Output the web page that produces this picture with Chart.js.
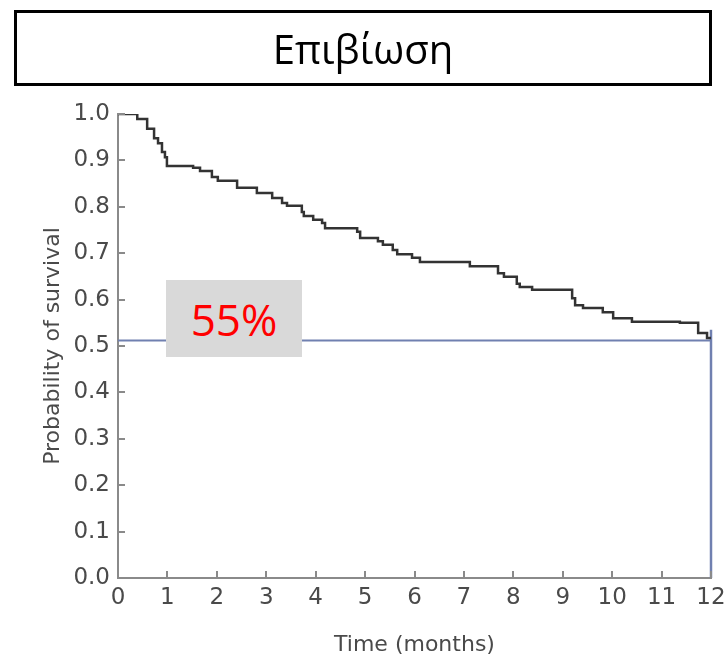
<!DOCTYPE html>
<html>
<head>
<meta charset="utf-8">
<script src="https://cdn.jsdelivr.net/npm/chart.js@4/dist/chart.umd.min.js"></script>
<style>
  html, body { margin: 0; padding: 0; background: #fff; }
  #wrap { position: relative; width: 725px; height: 662px; }
  #title {
    position: absolute; left: 14px; top: 10px; width: 692px; height: 70px;
    border: 3px solid #000; display: flex; align-items: center; justify-content: center;
    font-family: "Open Sans", "Noto Sans", sans-serif; font-size: 40px; color: #000;
  }
  #note {
    position: absolute; left: 166px; top: 280px; width: 136px; height: 77px;
    background: #d9d9d9; display: flex; align-items: center; justify-content: center;
    font-family: "Open Sans", "Noto Sans", sans-serif; font-size: 44px; color: #ff0000;
  }
</style>
</head>
<body>
<div id="wrap">
  <canvas id="km" width="725" height="662"></canvas>
  <div id="title">Επιβίωση</div>
  <div id="note">55%</div>
</div>
<script>
// Kaplan-Meier steps: time of each drop (months) and survival after it
const stepTimes = [0, 0.39, 0.59, 0.73, 0.81, 0.89, 0.95, 0.99, 1.52, 1.66, 1.90, 2.02, 2.41, 2.81,
  3.12, 3.32, 3.42, 3.72, 3.76, 3.95, 4.13, 4.19, 4.84, 4.90, 5.26, 5.36, 5.56, 5.65, 5.95, 6.11,
  7.12, 7.69, 7.81, 8.07, 8.13, 8.38, 9.19, 9.25, 9.41, 9.81, 10.02, 10.40, 11.37, 11.74, 11.92, 12];
const survival = [1.0, 0.989, 0.968, 0.948, 0.937, 0.918, 0.907, 0.888, 0.884, 0.877, 0.864, 0.856, 0.841, 0.830,
  0.819, 0.808, 0.802, 0.789, 0.780, 0.772, 0.765, 0.754, 0.746, 0.733, 0.726, 0.718, 0.707, 0.698, 0.690, 0.681,
  0.672, 0.657, 0.649, 0.634, 0.627, 0.621, 0.603, 0.588, 0.582, 0.573, 0.560, 0.552, 0.550, 0.528, 0.517, 0.517];

const xTicks = [0, 1, 2, 3, 4, 5, 6, 7, 8, 9, 10, 11, 12];
const yTicks = [0, 0.1, 0.2, 0.3, 0.4, 0.5, 0.6, 0.7, 0.8, 0.9, 1.0];

// reference level read at 12 months
const markTime = 12;
const markLevel = 0.512;
const markTop = 0.535;

const axisGray = '#8a8a8a';
const textGray = '#4a4a4a';
const refBlue = '#7080b0';

// small tick marks pointing into the plot
const innerTicks = {
  id: 'innerTicks',
  afterDraw(chart) {
    const { ctx, scales: { x, y } } = chart;
    ctx.save();
    ctx.strokeStyle = axisGray;
    ctx.lineWidth = 2;
    ctx.beginPath();
    xTicks.forEach(v => {
      if (v === 0) return;
      const px = Math.round(x.getPixelForValue(v));
      ctx.moveTo(px, y.bottom);
      ctx.lineTo(px, y.bottom - 7);
    });
    yTicks.forEach(v => {
      if (v === 0) return;
      const py = Math.round(y.getPixelForValue(v));
      ctx.moveTo(x.left, py);
      ctx.lineTo(x.left + 7, py);
    });
    ctx.stroke();
    ctx.restore();
  }
};

const curve = stepTimes.map((t, i) => ({ x: t, y: survival[i] }));

new Chart(document.getElementById('km'), {
  type: 'line',
  data: {
    datasets: [
      {
        data: curve,
        stepped: 'before',
        borderColor: '#333333',
        borderWidth: 2.5,
        pointRadius: 0,
        fill: false,
        order: 0
      },
      {
        data: [{ x: 0, y: markLevel }, { x: markTime, y: markLevel }],
        borderColor: refBlue,
        borderWidth: 2,
        pointRadius: 0,
        clip: false,
        order: 1
      },
      {
        data: [{ x: markTime, y: 0 }, { x: markTime, y: markTop }],
        borderColor: refBlue,
        borderWidth: 2.5,
        pointRadius: 0,
        clip: false,
        order: 1
      }
    ]
  },
  options: {
    responsive: false,
    animation: false,
    layout: { padding: { top: 114, right: 14, left: 0, bottom: 0 } },
    plugins: {
      legend: { display: false },
      tooltip: { enabled: false }
    },
    scales: {
      x: {
        type: 'linear',
        min: 0,
        max: 12,
        // fixed height, and no extra room for the end labels
        afterFit: s => { s.height = 84; s.paddingLeft = 0; s.paddingRight = 0; },
        afterBuildTicks: s => { s.ticks = xTicks.map(v => ({ value: v })); },
        grid: { display: true, drawOnChartArea: false, drawTicks: false },
        border: { color: axisGray, width: 2 },
        ticks: {
          color: textGray,
          padding: 6,
          maxRotation: 0,
          font: { family: 'DejaVu Sans', size: 23 }
        },
        title: {
          display: true,
          text: 'Time (months)',
          color: textGray,
          font: { family: 'DejaVu Sans', size: 22 },
          padding: { top: 0, bottom: 4 }
        }
      },
      y: {
        type: 'linear',
        min: 0,
        max: 1,
        afterFit: s => { s.width = 118; s.paddingTop = 0; s.paddingBottom = 0; },
        afterBuildTicks: s => { s.ticks = yTicks.map(v => ({ value: v })); },
        grid: { display: true, drawOnChartArea: false, drawTicks: false },
        border: { color: axisGray, width: 2 },
        ticks: {
          color: textGray,
          padding: 8,
          font: { family: 'DejaVu Sans', size: 23 },
          callback: v => v.toFixed(1)
        },
        title: {
          display: true,
          text: 'Probability of survival',
          color: textGray,
          font: { family: 'DejaVu Sans', size: 22 },
          padding: { top: 40, bottom: 0 }
        }
      }
    }
  },
  plugins: [innerTicks]
});
</script>
</body>
</html>
